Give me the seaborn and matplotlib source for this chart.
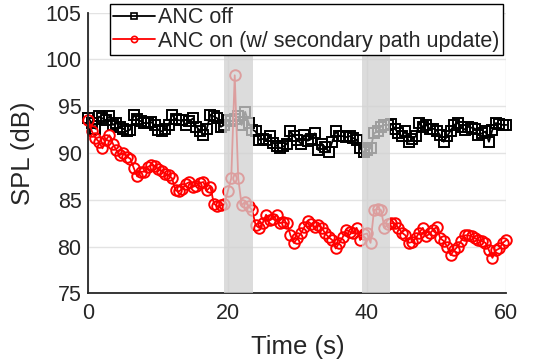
import numpy as np
import matplotlib
matplotlib.use("Agg")
import matplotlib.pyplot as plt
import seaborn as sns
from matplotlib.ticker import MultipleLocator

sns.set_style("white")
plt.rcParams['font.family'] = ['Liberation Sans', 'DejaVu Sans']

# time axis (s), one sample every 0.5 s
time_s = np.arange(0, 60.01, 0.5)

# SPL (dB)
spl_anc_off = [
    93.7, 93.2, 92.6, 93.9, 93.7, 93.5, 93.9, 93.0, 93.2, 92.8,
    92.6, 92.3, 92.5, 94.1, 93.6, 93.4, 93.2, 93.2, 93.3, 93.0,
    92.5, 92.3, 92.6, 93.0, 94.1, 93.6, 93.5, 93.5, 93.0, 93.4,
    93.7, 92.8, 92.4, 91.9, 92.6, 94.1, 93.9, 93.7, 92.8, 93.0,
    93.5, 93.4, 93.6, 93.9, 93.0, 94.4, 93.2, 92.5, 92.3, 91.4,
    91.5, 91.4, 91.8, 91.1, 90.8, 90.5, 90.7, 91.0, 92.3, 91.8,
    91.4, 91.0, 91.9, 91.3, 91.5, 92.1, 90.3, 91.0, 90.6, 90.1,
    91.2, 92.3, 91.8, 91.8, 91.7, 91.8, 91.6, 91.4, 90.5, 90.1,
    90.3, 90.5, 92.1, 92.3, 92.8, 93.0, 93.0, 93.1, 92.6, 92.1,
    91.8, 92.3, 91.2, 91.5, 91.8, 93.2, 92.8, 93.0, 92.6, 92.6,
    92.4, 91.9, 91.2, 91.8, 92.4, 93.0, 93.2, 92.8, 92.5, 92.8,
    92.7, 92.6, 91.9, 92.1, 92.3, 91.2, 92.5, 93.2, 93.1, 93.0,
    93.0,
]

spl_anc_on = [
    93.5, 92.3, 91.6, 91.2, 90.5, 91.4, 91.9, 91.0, 90.3, 89.8,
    90.0, 89.6, 89.4, 88.4, 87.5, 88.0, 88.0, 88.5, 88.7, 88.6,
    88.3, 88.1, 87.8, 87.6, 87.3, 86.0, 85.9, 86.2, 86.7, 86.9,
    86.4, 86.5, 86.8, 86.9, 86.0, 86.4, 84.6, 84.3, 84.4, 84.5,
    85.9, 87.3, 98.3, 87.3, 84.4, 84.8, 84.3, 83.9, 82.3, 82.0,
    82.5, 83.4, 82.8, 83.0, 83.4, 82.5, 82.6, 82.5, 81.2, 80.4,
    80.9, 81.4, 82.1, 82.7, 82.4, 82.1, 82.3, 82.0, 81.4, 81.0,
    80.7, 79.8, 80.4, 81.0, 81.8, 81.6, 81.4, 82.0, 80.7, 81.3,
    81.4, 80.4, 83.9, 84.0, 83.9, 82.0, 82.4, 82.5, 82.5, 82.0,
    81.5, 81.2, 80.4, 80.5, 80.9, 81.5, 82.0, 81.1, 81.4, 81.8,
    82.1, 80.9, 80.6, 80.0, 79.1, 79.6, 80.0, 80.6, 81.2, 81.2,
    81.1, 80.9, 80.7, 80.6, 80.4, 79.6, 78.8, 79.6, 79.8, 80.4,
    80.7,
]

# secondary path update windows (s)
update_windows = [(19.5, 23.6), (39.3, 43.3)]

fig = plt.figure(figsize=(5.33, 3.6), dpi=100)
ax = fig.add_axes([0.166, 0.185, 0.784, 0.780])

sns.lineplot(x=time_s, y=spl_anc_off, ax=ax, color='black', lw=1.3,
             marker='s', markersize=6.5, markerfacecolor='none',
             markeredgecolor='black', markeredgewidth=1.4,
             label='ANC off', clip_on=False, zorder=2)
sns.lineplot(x=time_s, y=spl_anc_on, ax=ax, color='red', lw=1.3,
             marker='o', markersize=7.6, markerfacecolor='none',
             markeredgecolor='red', markeredgewidth=1.4,
             label='ANC on (w/ secondary path update)', clip_on=False, zorder=2)

# shaded windows drawn on top of the curves (like the original)
for x0, x1 in update_windows:
    ax.axvspan(x0, x1, color=(0.82, 0.82, 0.82), alpha=0.76, lw=0, zorder=3)

ax.set_xlim(0, 60)
ax.set_ylim(75, 105)
ax.xaxis.set_major_locator(MultipleLocator(20))
ax.xaxis.set_minor_locator(MultipleLocator(5))
ax.yaxis.set_major_locator(MultipleLocator(5))

ax.grid(True, which='major', color='#e3e3e3', lw=1.0, zorder=0)
ax.set_axisbelow(True)
for side in ['top', 'right']:
    ax.spines[side].set_visible(False)
for side in ['left', 'bottom']:
    ax.spines[side].set_color('#262626')
    ax.spines[side].set_linewidth(1.3)

ax.tick_params(axis='both', which='both', direction='in', length=4, width=1.0,
               color='#262626', labelsize=15.5, labelcolor='#262626')
ax.tick_params(axis='x', pad=7)
ax.tick_params(axis='y', pad=5)

ax.set_xlabel('Time (s)', fontsize=18.5, color='#262626', labelpad=8)
ax.set_ylabel('SPL (dB)', fontsize=18.5, color='#262626', labelpad=7.5)

leg = ax.legend(loc='upper left', bbox_to_anchor=(110 / 533, 1 - 4 / 360),
                bbox_transform=fig.transFigure, borderaxespad=0, fontsize=15.5,
                frameon=True, fancybox=False, framealpha=1, edgecolor='black',
                handlelength=1.95, handletextpad=0.15, labelspacing=0.12,
                borderpad=0.15)
leg.get_frame().set_linewidth(1.0)
leg.set_zorder(10)
for h in leg.legend_handles:
    h.set_markersize(4.5)
    h.set_markeredgewidth(1.2)

fig.savefig('out.png', dpi=100, facecolor='white')
